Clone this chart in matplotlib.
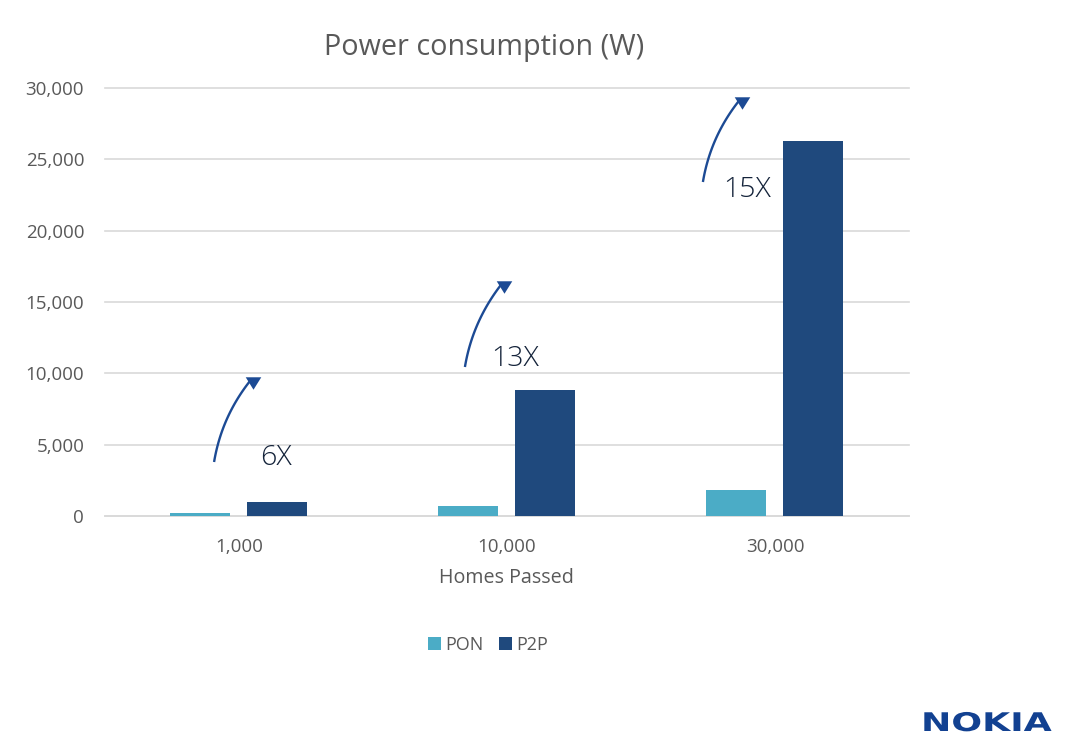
import matplotlib
matplotlib.use("Agg")
import matplotlib.pyplot as plt
import matplotlib.patheffects as pe
from matplotlib.transforms import Affine2D
import numpy as np

plt.rcParams['font.family'] = ['Open Sans', 'DejaVu Sans']

# Data
categories = ["1,000", "10,000", "30,000"]
pon = [190, 680, 1800]
p2p = [1000, 8800, 26300]
y_ticks = [0, 5000, 10000, 15000, 20000, 25000, 30000]
ratio_labels = ["6X", "13X", "15X"]

# Annotation anchors in data coordinates
label_x = [0.138, 1.03, 1.896]
label_y = [4100, 10970, 22850]
arrow_start_x = [-0.093, 0.843, 1.731]
arrow_start_y = [3785, 10444, 23411]
arrow_ctrl_x = [-0.065, 0.871, 1.759]
arrow_ctrl_y = [6939, 13598, 26565]
arrow_end_x = [0.041, 0.977, 1.865]
arrow_end_y = [9463, 16190, 29090]
head_x = [0.054, 0.990, 1.878]
head_y = [9357, 16086, 28983]

TEXT = "#595959"
GRID = "#d9d9d9"
PON_COLOR = "#4bacc6"
P2P_COLOR = "#1f497d"
ARROW = "#1c4a94"
HEAD = [(-1, 0.8), (1, 0.8), (0, -0.8)]  # wide triangle pointing down


class StretchX(pe.AbstractPathEffect):
    # widen the glyphs, the logo is much wider than any installed font
    def __init__(self, factor, x0):
        super().__init__()
        self.factor = factor
        self.x0 = x0

    def draw_path(self, renderer, gc, tpath, affine, rgbFace=None):
        stretch = Affine2D().translate(-self.x0, 0).scale(self.factor, 1).translate(self.x0, 0)
        renderer.draw_path(gc, tpath, affine + stretch, rgbFace)


W, H = 1071, 753
fig = plt.figure(figsize=(W / 100, H / 100), dpi=100, facecolor="white")
ax = fig.add_axes([105 / W, 1 - 516 / H, 804 / W, 428 / H])

x = np.arange(len(categories))
bar_w = 0.224
ax.bar(x - 0.1445, pon, bar_w, color=PON_COLOR, label="PON", zorder=3)
ax.bar(x + 0.141, p2p, bar_w, color=P2P_COLOR, label="P2P", zorder=3)

ax.set_xlim(-0.5, 2.5)
ax.set_ylim(0, 30000)
ax.set_xticks(x)
ax.set_xticklabels(categories)
ax.set_yticks(y_ticks)
ax.set_yticklabels([f"{v:,}" for v in y_ticks])
ax.tick_params(axis="both", length=0, labelsize=13.5, labelcolor=TEXT)
ax.tick_params(axis="x", pad=16)
ax.tick_params(axis="y", pad=15)
ax.grid(axis="y", color=GRID, linewidth=1.2, zorder=0)
for line in ax.get_ygridlines():
    line.set_clip_on(False)
ax.set_axisbelow(True)
for side in ["top", "right", "left"]:
    ax.spines[side].set_visible(False)
ax.spines["bottom"].set_color(GRID)
ax.spines["bottom"].set_linewidth(1.2)

fig.text(484 / W, 1 - 47 / H, "Power consumption (W)", fontsize=20.7, color=TEXT, ha="center", va="center")
fig.text(506 / W, 1 - 578 / H, "Homes Passed", fontsize=14.2, color=TEXT, ha="center", va="center")

# Arrows with the downward triangle heads and the ratio labels
t = np.linspace(0, 1, 60)
for i in range(3):
    # quadratic curve through the control point, the arc3 patch came out kinked
    curve_x = (1 - t) ** 2 * arrow_start_x[i] + 2 * t * (1 - t) * arrow_ctrl_x[i] + t ** 2 * arrow_end_x[i]
    curve_y = (1 - t) ** 2 * arrow_start_y[i] + 2 * t * (1 - t) * arrow_ctrl_y[i] + t ** 2 * arrow_end_y[i]
    ax.plot(curve_x, curve_y, color=ARROW, linewidth=1.7, solid_capstyle="butt", zorder=5, clip_on=False)
    ax.plot(head_x[i], head_y[i], marker=HEAD, markersize=11.2, color=ARROW, markeredgewidth=0,
            zorder=6, clip_on=False)
    ax.text(label_x[i], label_y[i], ratio_labels[i], fontsize=20.5, color="#14233a", fontweight="light",
            ha="center", va="center", zorder=6)

ax.legend(loc="center", bbox_to_anchor=(488 / W, 1 - 645 / H), bbox_transform=fig.transFigure, ncol=2,
          frameon=False, fontsize=13, labelcolor=TEXT, handlelength=0.7, handleheight=0.7,
          handletextpad=0.25, columnspacing=0.85,
          handles=ax.get_legend_handles_labels()[0][:2], labels=["PON", "P2P"])

logo = fig.text(921 / W, 1 - 731 / H, "NOKIA", fontsize=18.5, fontweight="bold", color="#124191",
                family="DejaVu Sans", ha="left", va="baseline")
logo.set_path_effects([StretchX(1.41, 921)])

fig.savefig("out.png", dpi=100, facecolor="white")
